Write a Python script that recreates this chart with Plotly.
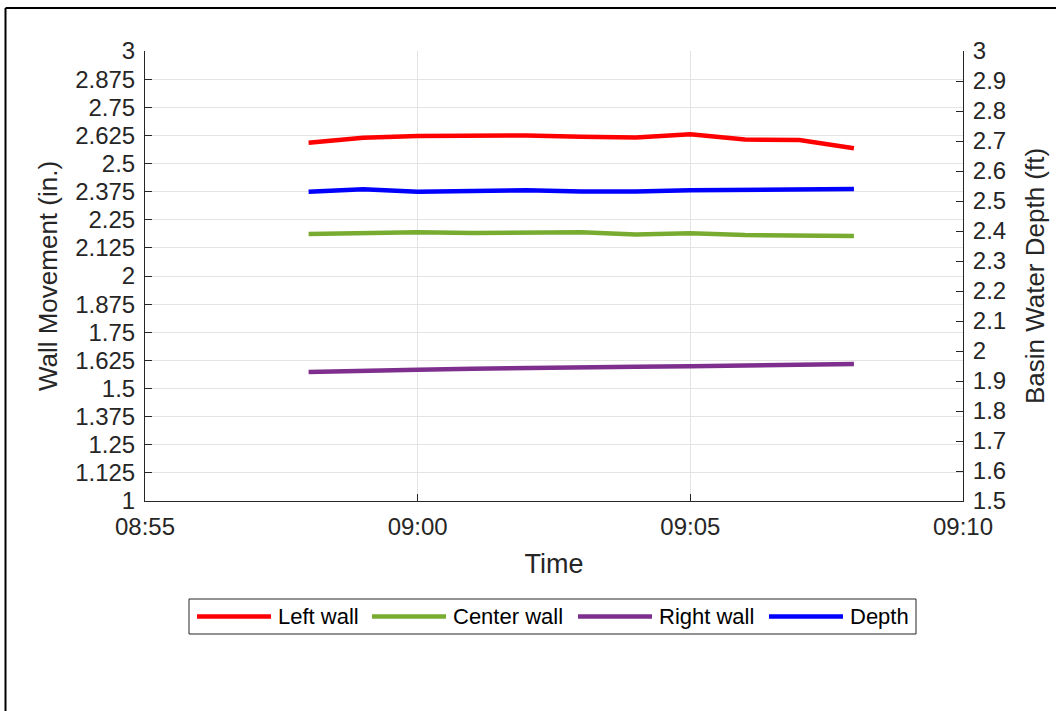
import plotly.graph_objects as go

# ---- data -------------------------------------------------------------
times = [
    "2023-01-01 08:58", "2023-01-01 08:59", "2023-01-01 09:00",
    "2023-01-01 09:01", "2023-01-01 09:02", "2023-01-01 09:03",
    "2023-01-01 09:04", "2023-01-01 09:05", "2023-01-01 09:06",
    "2023-01-01 09:07", "2023-01-01 09:08",
]
left_wall = [2.592, 2.614, 2.622, 2.625, 2.625, 2.619, 2.616, 2.630, 2.607, 2.604, 2.568]
center_wall = [2.187, 2.191, 2.194, 2.191, 2.191, 2.194, 2.184, 2.190, 2.182, 2.181, 2.178]
right_wall = [1.573, 1.580, 1.583, 1.588, 1.592, 1.596, 1.597, 1.599, 1.603, 1.608, 1.609]
depth = [2.531, 2.539, 2.531, 2.534, 2.536, 2.532, 2.532, 2.536, 2.538, 2.540, 2.540]

series_names = ["Left wall", "Center wall", "Right wall", "Depth"]
series_colors = ["#FF0000", "#77AC30", "#7E2F8E", "#0000FF"]

left_ticks = [1, 1.125, 1.25, 1.375, 1.5, 1.625, 1.75, 1.875, 2,
              2.125, 2.25, 2.375, 2.5, 2.625, 2.75, 2.875, 3]
left_tick_text = ["1", "1.125", "1.25", "1.375", "1.5", "1.625", "1.75", "1.875", "2",
                  "2.125", "2.25", "2.375", "2.5", "2.625", "2.75", "2.875", "3"]
right_ticks = [1.5, 1.6, 1.7, 1.8, 1.9, 2.0, 2.1, 2.2, 2.3, 2.4, 2.5, 2.6, 2.7, 2.8, 2.9, 3.0]
right_tick_text = ["1.5", "1.6", "1.7", "1.8", "1.9", "2", "2.1", "2.2", "2.3", "2.4",
                   "2.5", "2.6", "2.7", "2.8", "2.9", "3"]
time_ticks = ["2023-01-01 08:55", "2023-01-01 09:00", "2023-01-01 09:05", "2023-01-01 09:10"]

# ---- layout geometry (pixels) -------------------------------------------
W, H = 1056, 711
ML, MR, MT, MB = 145, 93, 51, 210
PW, PH = W - ML - MR, H - MT - MB
FONT = "Liberation Sans, Arial, Helvetica, sans-serif"
INK = "#262626"


def px(x):
    return (x - ML) / PW


def py(y):
    return (H - MB - y) / PH


fig = go.Figure()
wall_series = [left_wall, center_wall, right_wall]
for name, color, vals in zip(series_names[:3], series_colors[:3], wall_series):
    fig.add_trace(go.Scatter(x=times, y=vals, name=name, mode="lines",
                             line=dict(color=color, width=4.5), showlegend=False))
fig.add_trace(go.Scatter(x=times, y=depth, name=series_names[3], mode="lines",
                         line=dict(color=series_colors[3], width=4.5),
                         yaxis="y2", showlegend=False))

axis_common = dict(
    showline=True, linecolor=INK, linewidth=1,
    ticks="inside", ticklen=7, tickcolor=INK,
    tickfont=dict(family=FONT, size=24, color=INK),
    zeroline=False,
)
title_font = dict(family=FONT, size=26, color=INK)

fig.update_layout(
    width=W, height=H,
    margin=dict(l=ML, r=MR, t=MT, b=MB),
    paper_bgcolor="white", plot_bgcolor="white",
    font=dict(family=FONT, color=INK),
    xaxis=dict(
        type="date", range=[time_ticks[0], time_ticks[-1]],
        tickvals=time_ticks, tickformat="%H:%M", ticklabelstandoff=4,
        showgrid=True, gridcolor="#E3E3E3", gridwidth=1,
        title=dict(text="Time", font=dict(family=FONT, size=27, color=INK), standoff=15),
        **axis_common,
    ),
    yaxis=dict(
        range=[1, 3], tickvals=left_ticks, ticktext=left_tick_text, ticklabelstandoff=4,
        showgrid=True, gridcolor="#E3E3E3", gridwidth=1,
        title=dict(text="Wall Movement (in.)", font=title_font, standoff=10),
        **axis_common,
    ),
    yaxis2=dict(
        overlaying="y", side="right",
        range=[1.5, 3], tickvals=right_ticks, ticktext=right_tick_text, ticklabelstandoff=4,
        showgrid=False,
        title=dict(text="Basin Water Depth (ft)", font=title_font, standoff=20),
        **axis_common,
    ),
)

# figure frame (top and left edges)
shapes = [
    dict(type="line", xref="paper", yref="paper", x0=px(5.5), x1=px(W + 5), y0=py(8), y1=py(8),
         line=dict(color="black", width=2)),
    dict(type="line", xref="paper", yref="paper", x0=px(5.5), x1=px(5.5), y0=py(8), y1=py(H + 5),
         line=dict(color="black", width=2)),
]

# legend box with line swatches and labels
legend_box = (189, 599, 916, 634)
swatch_x = [197, 372, 578, 769]
swatch_len = 74
legend_mid = (legend_box[1] + legend_box[3]) / 2
shapes.append(dict(type="rect", xref="paper", yref="paper",
                   x0=px(legend_box[0]), x1=px(legend_box[2]),
                   y0=py(legend_box[1]), y1=py(legend_box[3]),
                   line=dict(color=INK, width=1), fillcolor="white"))
annotations = []
for name, color, sx in zip(series_names, series_colors, swatch_x):
    shapes.append(dict(type="line", xref="paper", yref="paper",
                       x0=px(sx), x1=px(sx + swatch_len), y0=py(legend_mid), y1=py(legend_mid),
                       line=dict(color=color, width=4.5)))
    annotations.append(dict(text=name, xref="paper", yref="paper",
                            x=px(sx + swatch_len + 5), y=py(legend_mid),
                            xanchor="left", yanchor="middle", showarrow=False,
                            font=dict(family=FONT, size=22, color="black")))

fig.update_layout(shapes=shapes, annotations=annotations)

fig.write_html("out.html")
